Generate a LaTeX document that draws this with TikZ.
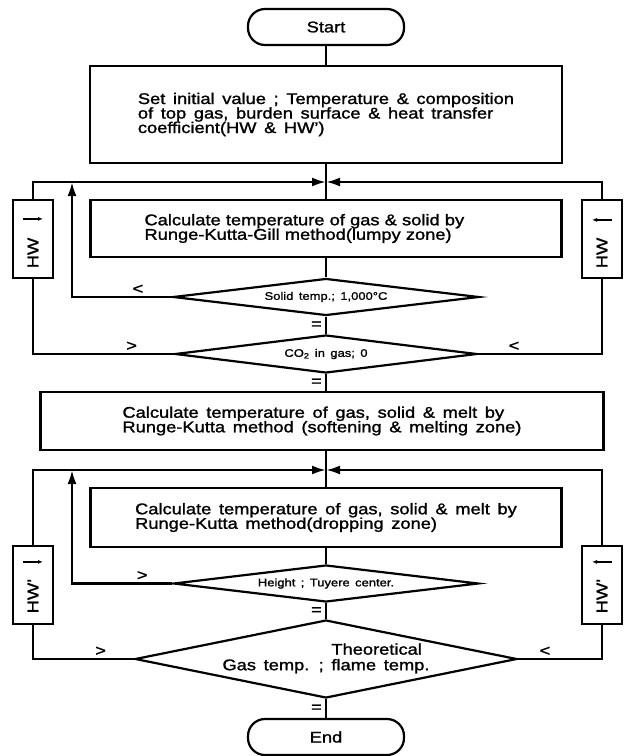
\documentclass[tikz,border=0pt]{standalone}
\usepackage{fontspec}
\usepackage{graphicx}
\setmainfont{Liberation Sans}[FakeStretch=1.18,WordSpace=1.5,FakeBold=1.4]
\usetikzlibrary{arrows.meta,shapes.geometric}
\newcommand\fbig{\fontsize{15.5}{14.5}\selectfont}
\newcommand\fsmall{\fontsize{11}{12}\selectfont}
\begin{document}
\begin{tikzpicture}[x=1pt,y=-1pt,
  line width=2.4pt,
  box/.style={draw,line width=2.2pt,rectangle,align=left,font=\fbig,inner sep=0pt},
  term/.style={draw,line width=2.2pt,rectangle,rounded corners=17pt,minimum width=156pt,minimum height=36pt,font=\fbig,inner sep=0pt},
  dia/.style={draw,line width=2.2pt,diamond,inner sep=0pt,font=\fsmall},
  side/.style={draw,line width=2.2pt,rectangle,minimum width=40pt,minimum height=78pt,inner sep=0pt,font=\fbig},
  lab/.style={font=\fbig,inner sep=1pt},
  arr/.style={-{Latex[length=14pt,width=9pt]}},
  sarr/.style={-{Latex[length=5pt,width=4pt]},line width=1.4pt}]
\useasboundingbox (0,0) rectangle (629,756);

\node[term] (start) at (326,27) {Start};
\node[box,minimum width=472pt,minimum height=97pt] (b1) at (326,114.5) {Set initial value ; Temperature \& composition\\of top gas, burden surface \& heat transfer\\coefficient(HW \& HW')};
\node[box,text width=363pt,inner xsep=54pt,minimum height=57pt] (b2) at (326,228.5) {Calculate temperature of gas \& solid by\\Runge-Kutta-Gill method(lumpy zone)};
\node[dia,minimum width=306pt,minimum height=37pt,aspect=8.3] (d1) at (326,297) {Solid temp.; 1,000°C};
\node[dia,minimum width=302pt,minimum height=38pt,aspect=8] (d2) at (326,354) {CO\textsubscript{2} in gas; 0};
\node[box,minimum width=563pt,minimum height=58pt] (b3) at (322,421) {Calculate temperature of gas, solid \& melt by\\Runge-Kutta method (softening \& melting zone)};
\node[box,minimum width=471pt,minimum height=59pt] (b4) at (326,517.5) {Calculate temperature of gas, solid \& melt by\\Runge-Kutta method(dropping zone)};
\node[dia,minimum width=305pt,minimum height=37pt,aspect=8.2] (d3) at (326,583.5) {Height ; Tuyere center.};
\node[dia,font=\fbig,minimum width=382pt,minimum height=78pt,aspect=4.9] (d4) at (326,659) {Gas temp. ; \begin{tabular}[b]{@{}l@{}}Theoretical\\flame temp.\end{tabular}};
\node[term] (end) at (326,737) {End};

\node[side] (hwL) at (33,239) {\rotatebox{90}{HW\hspace*{28pt}}};
\node[side] (hwR) at (602,239) {\rotatebox{90}{HW\hspace*{28pt}}};
\node[side] (hwL2) at (33,585) {\rotatebox{90}{HW'\hspace*{22pt}}};
\node[side] (hwR2) at (602,585) {\rotatebox{90}{HW'\hspace*{22pt}}};

\draw[sarr] ([xshift=-10pt,yshift=-20pt]hwL.north) -- ([xshift=10pt,yshift=-20pt]hwL.north);
\draw[sarr] ([xshift=10pt,yshift=-21pt]hwR.north) -- ([xshift=-10pt,yshift=-21pt]hwR.north);
\draw[sarr] ([xshift=-10pt,yshift=-17pt]hwL2.north) -- ([xshift=10pt,yshift=-17pt]hwL2.north);
\draw[sarr] ([xshift=10pt,yshift=-17pt]hwR2.north) -- ([xshift=-10pt,yshift=-17pt]hwR2.north);

\coordinate (j1) at (326,182);
\coordinate (j2) at (326,470);
\coordinate (xA) at (72,0);

\draw (start.south) -- (b1.north);
\draw (b1.south) -- (b2.north);
\draw (b2.south) -- (d1.north);
\draw (d1.south) -- node[lab,left=2pt]{=} (d2.north);
\draw (d2.south) -- node[lab,left=2pt]{=} (d2.south |- b3.north);
\draw (b3.south -| b4.north) -- (b4.north);
\draw (b4.south) -- (d3.north);
\draw (d3.south) -- node[lab,left=2pt]{=} (d4.north);
\draw (d4.south) -- node[lab,left=2pt]{=} (end.north);

\draw[arr] (d1.west) -- node[lab,pos=0.34,above=1pt]{<} (xA |- d1.west) -- (xA |- j1);
\draw (d2.west) -- node[lab,pos=0.3,above=1pt]{>} (hwL.south |- d2.west) -- (hwL.south);
\draw[arr] (hwL.north) |- (j1);
\draw (d2.east) -- node[lab,pos=0.29,above=1pt]{<} (hwR.south |- d2.east) -- (hwR.south);
\draw[arr] (hwR.north) |- (j1);

\draw[arr] (d3.west) -- node[lab,pos=0.3,above=1pt]{>} (xA |- d3.west) -- (xA |- j2);
\draw (d4.west) -- node[lab,pos=0.33,above=1pt]{>} (hwL2.south |- d4.west) -- (hwL2.south);
\draw[arr] (hwL2.north) |- (j2);
\draw (d4.east) -- node[lab,pos=0.32,above=1pt]{<} (hwR2.south |- d4.east) -- (hwR2.south);
\draw[arr] (hwR2.north) |- (j2);
\end{tikzpicture}
\end{document}
